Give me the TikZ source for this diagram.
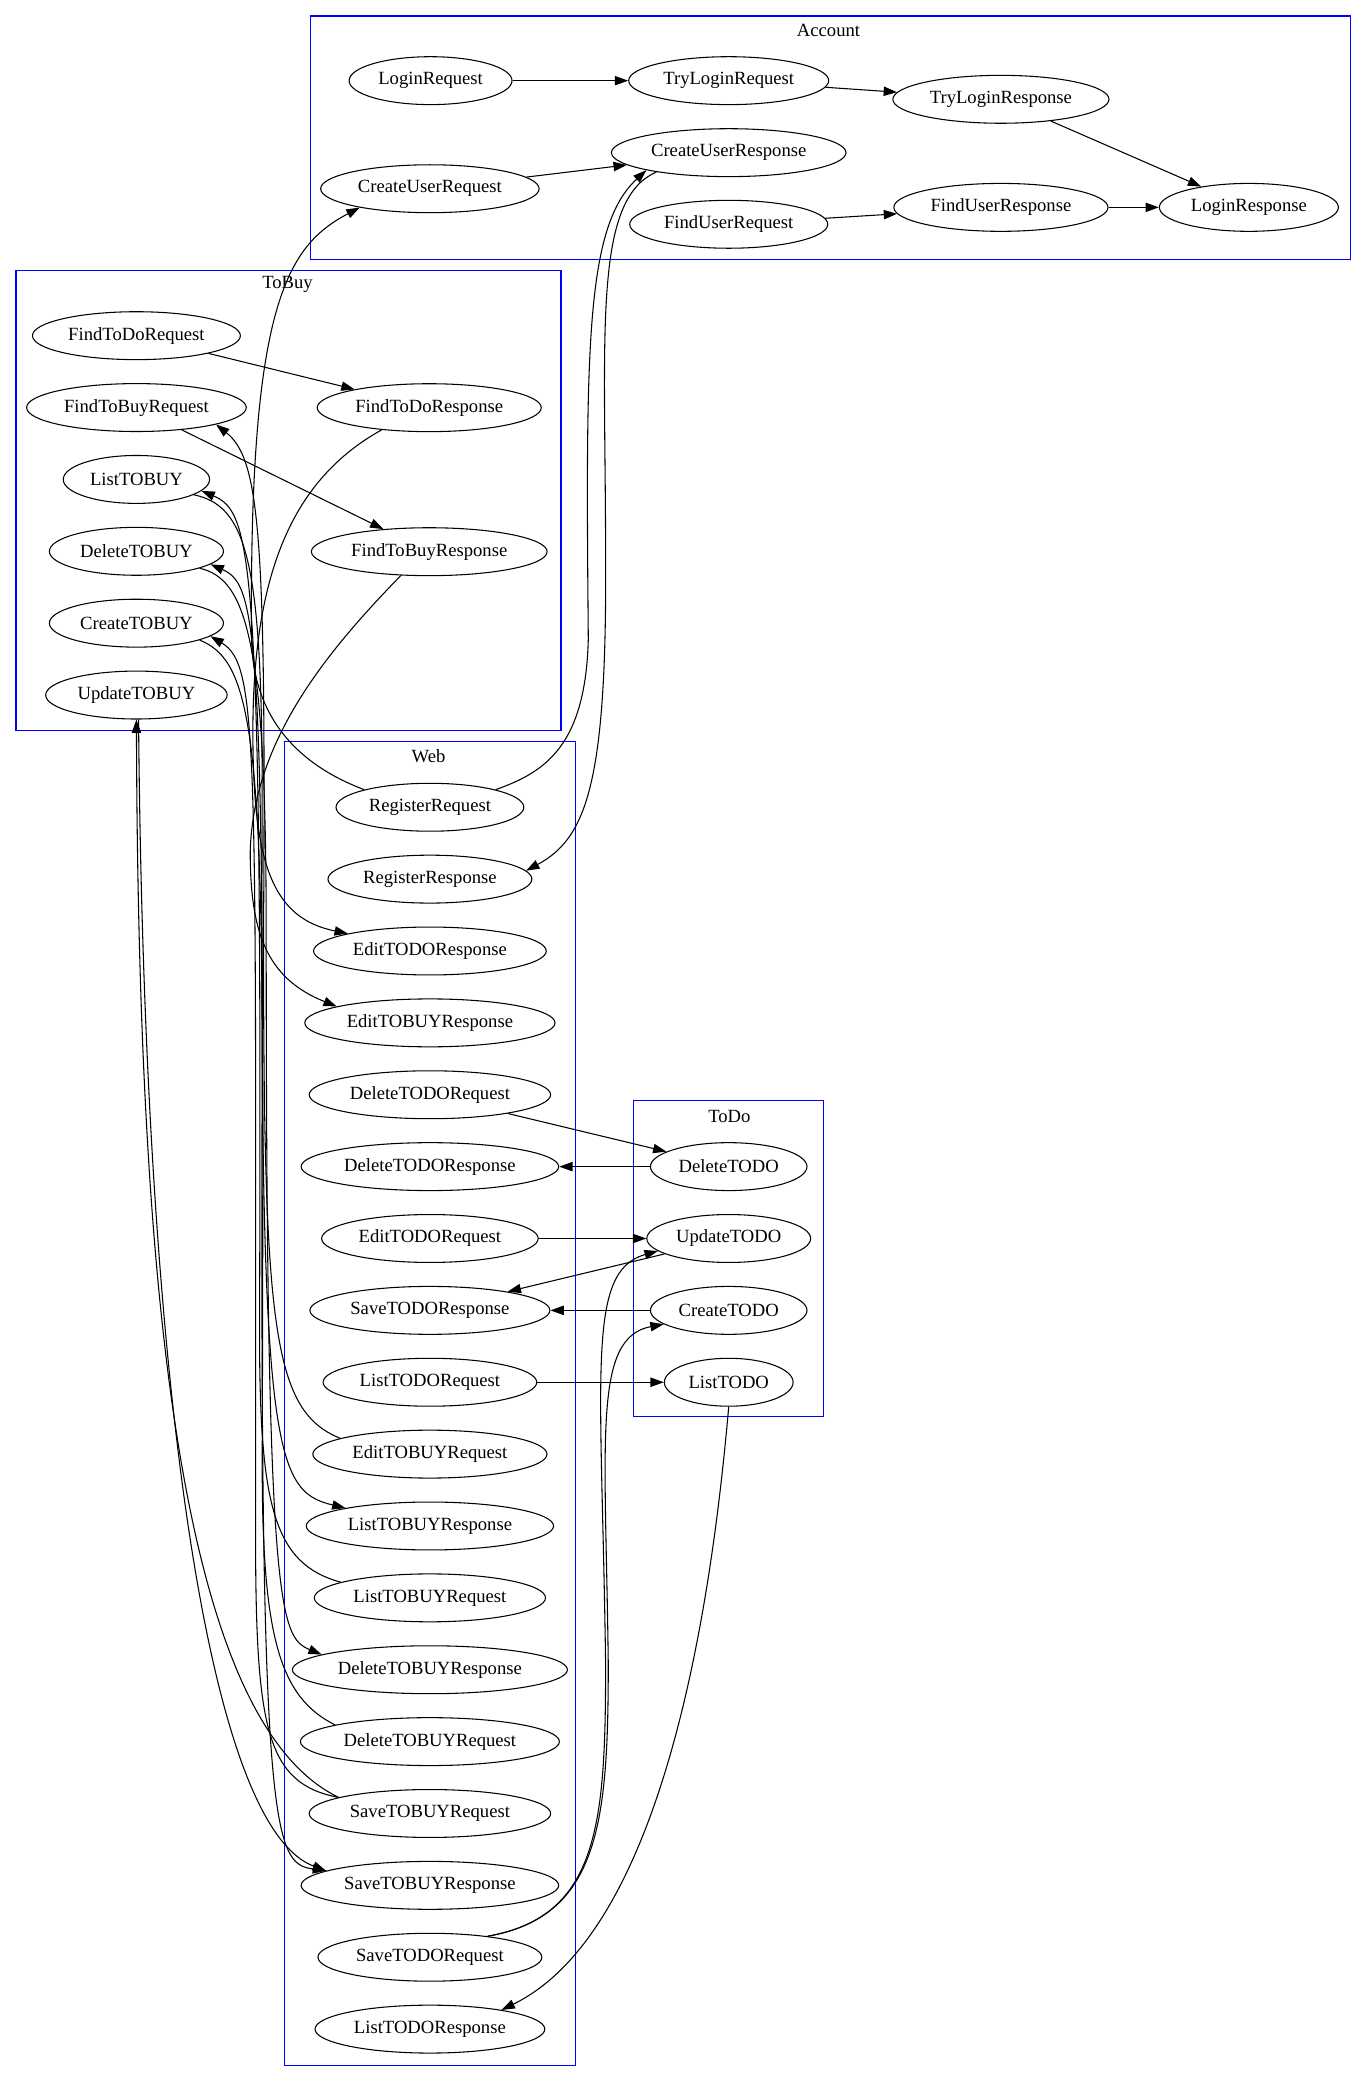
\documentclass[tikz,border=0pt]{standalone}
\usepackage{fontspec}
\setmainfont{Liberation Serif}
\usetikzlibrary{arrows.meta}
\usetikzlibrary{shapes}
\usetikzlibrary{positioning}
\tikzset{
  msg/.style={draw, ellipse, line width=0.8pt, minimum height=36pt, minimum width=54pt,
    inner xsep=4pt, inner ysep=2pt, font=\fontsize{14}{16}\selectfont},
  cluster/.style={draw=blue, line width=0.8pt},
  caption/.style={font=\fontsize{14}{16}\selectfont},
  flow/.style={line width=0.8pt, -{Triangle[length=10pt,width=7pt]}}
}
\newcommand\webmessages{RegisterRequest,RegisterResponse,EditTODOResponse,EditTOBUYResponse,DeleteTODORequest,DeleteTODOResponse,EditTODORequest,SaveTODOResponse,ListTODORequest,EditTOBUYRequest,ListTOBUYResponse,ListTOBUYRequest,DeleteTOBUYResponse,DeleteTOBUYRequest,SaveTOBUYRequest,SaveTOBUYResponse,SaveTODORequest,ListTODOResponse}
\newcommand\tobuymessages{FindToDoRequest,FindToBuyRequest,ListTOBUY,DeleteTOBUY,CreateTOBUY,UpdateTOBUY}
\newcommand\todomessages{DeleteTODO,UpdateTODO,CreateTODO,ListTODO}

\begin{document}
\begin{tikzpicture}[x=1pt,y=-1pt]
  \useasboundingbox (0,0) rectangle (1024,1563.5);

  % clusters
  \draw[cluster] (233,12) rectangle (1014.5,195);
  \node[caption] (accountlabel) at (622.5,22.5) {Account};
  \draw[cluster] (12,203.5) rectangle (421.5,548.5);
  \node[caption] (tobuylabel) at (216,214) {ToBuy};
  \draw[cluster] (213.5,557) rectangle (432.5,1551.5);
  \node[caption] (weblabel) at (322,568) {Web};
  \draw[cluster] (476,827) rectangle (619,1064.5);
  \node[caption] (todolabel) at (548,838.5) {ToDo};

  % account
  \node[msg] (LoginRequest) at (323.5,60.6) {LoginRequest};
  \node[msg] (CreateUserRequest) at (323,141.8) {CreateUserRequest};
  \node[msg] (TryLoginRequest) at (547.5,60.6) {TryLoginRequest};
  \node[msg] (CreateUserResponse) at (547.5,114.7) {CreateUserResponse};
  \node[msg] (FindUserRequest) at (547.5,168.5) {FindUserRequest};
  \node[msg] (TryLoginResponse) at (752,74.6) {TryLoginResponse};
  \node[msg] (FindUserResponse) at (752,155.8) {FindUserResponse};
  \node[msg] (LoginResponse) at (938.3,155.8) {LoginResponse};

  % tobuy
  \foreach \name [count=\i from 0] in \tobuymessages {
    \node[msg] (\name) at (102.5,252.2+54*\i) {\name};
  }
  \node[msg] (FindToDoResponse) at (322.5,306.3) {FindToDoResponse};
  \node[msg] (FindToBuyResponse) at (322.5,414.5) {FindToBuyResponse};

  % web
  \foreach \name [count=\i from 0] in \webmessages {
    \node[msg] (\name) at (323,606.5+54*\i) {\name};
  }

  % todo
  \foreach \name [count=\i from 0] in \todomessages {
    \node[msg] (\name) at (547.5,876.5+54*\i) {\name};
  }

  % straight flows
  \draw[flow] (LoginRequest) -- (TryLoginRequest);
  \draw[flow] (TryLoginRequest) -- (TryLoginResponse);
  \draw[flow] (TryLoginResponse) -- (LoginResponse);
  \draw[flow] (CreateUserRequest) -- (CreateUserResponse);
  \draw[flow] (FindUserRequest) -- (FindUserResponse);
  \draw[flow] (FindUserResponse) -- (LoginResponse);
  \draw[flow] (FindToDoRequest) -- (FindToDoResponse);
  \draw[flow] (FindToBuyRequest) -- (FindToBuyResponse);
  \draw[flow] (DeleteTODORequest) -- (DeleteTODO);
  \draw[flow] (DeleteTODO) -- (DeleteTODOResponse);
  \draw[flow] (EditTODORequest) -- (UpdateTODO);
  \draw[flow] (UpdateTODO) -- (SaveTODOResponse);
  \draw[flow] (CreateTODO) -- (SaveTODOResponse);
  \draw[flow] (ListTODORequest) -- (ListTODO);

  % todo curves
  \draw[flow] (ListTODO.south) .. controls (535,1200) and (500,1450) .. (ListTODOResponse.15);
  \draw[flow] (SaveTODORequest.20) .. controls (450,1440) and (455,1370) .. (455,1250)
    .. controls (452,1030) and (440,955) .. (UpdateTODO.-170);
  \draw[flow] (SaveTODORequest.20) .. controls (450,1440) and (457,1370) .. (457,1250)
    .. controls (455,1080) and (445,1005) .. (CreateTODO.-168);

  % register
  \draw[flow] (RegisterRequest.165) .. controls (225,575) and (190,540) .. (189,480)
    .. controls (187,230) and (215,185) .. (CreateUserRequest.-165);
  \draw[flow] (RegisterRequest.15) .. controls (410,580) and (440,560) .. (442,480)
    .. controls (440,260) and (440,170) .. (CreateUserResponse.-168);
  \draw[flow] (CreateUserResponse.-165) .. controls (445,150) and (455,250) .. (455,420)
    .. controls (456,590) and (440,630) .. (RegisterResponse.5);

  % find
  \draw[flow] (FindToDoResponse.-155) .. controls (220,360) and (190,430) .. (190,550)
    .. controls (190,650) and (205,690) .. (EditTODOResponse.168);
  \draw[flow] (FindToBuyResponse.-140) .. controls (240,495) and (190,560) .. (188,640)
    .. controls (188,700) and (200,735) .. (EditTOBUYResponse.170);
  \draw[flow] (EditTOBUYRequest.170) .. controls (205,1060) and (198,1000) .. (198,700)
    .. controls (200,400) and (195,345) .. (FindToBuyRequest.-12);

  % tobuy curves
  \draw[flow] (ListTOBUYRequest.170) .. controls (205,1175) and (195,1130) .. (195,1000)
    .. controls (197,420) and (190,385) .. (ListTOBUY.-10);
  \draw[flow] (ListTOBUY.-15) .. controls (185,380) and (197,420) .. (197,600)
    .. controls (195,1090) and (205,1120) .. (ListTOBUYResponse.168);
  \draw[flow] (DeleteTOBUYRequest.170) .. controls (210,1275) and (197,1230) .. (197,1100)
    .. controls (199,480) and (195,440) .. (DeleteTOBUY.-10);
  \draw[flow] (DeleteTOBUY.-15) .. controls (185,435) and (200,480) .. (200,700)
    .. controls (200,1210) and (210,1230) .. (DeleteTOBUYResponse.172);
  \draw[flow] (SaveTOBUYRequest.170) .. controls (200,1340) and (192,1300) .. (192,1150)
    .. controls (192,560) and (195,500) .. (CreateTOBUY.-10);
  \draw[flow] (CreateTOBUY.-15) .. controls (185,495) and (197,540) .. (197,800)
    .. controls (195,1380) and (205,1400) .. (SaveTOBUYResponse.172);
  \draw[flow] (SaveTOBUYRequest.170) .. controls (140,1295) and (104,1000) .. (UpdateTOBUY.south);
  \draw[flow] (UpdateTOBUY.-85) .. controls (108,1000) and (150,1370) .. (SaveTOBUYResponse.172);

\end{tikzpicture}
\end{document}
